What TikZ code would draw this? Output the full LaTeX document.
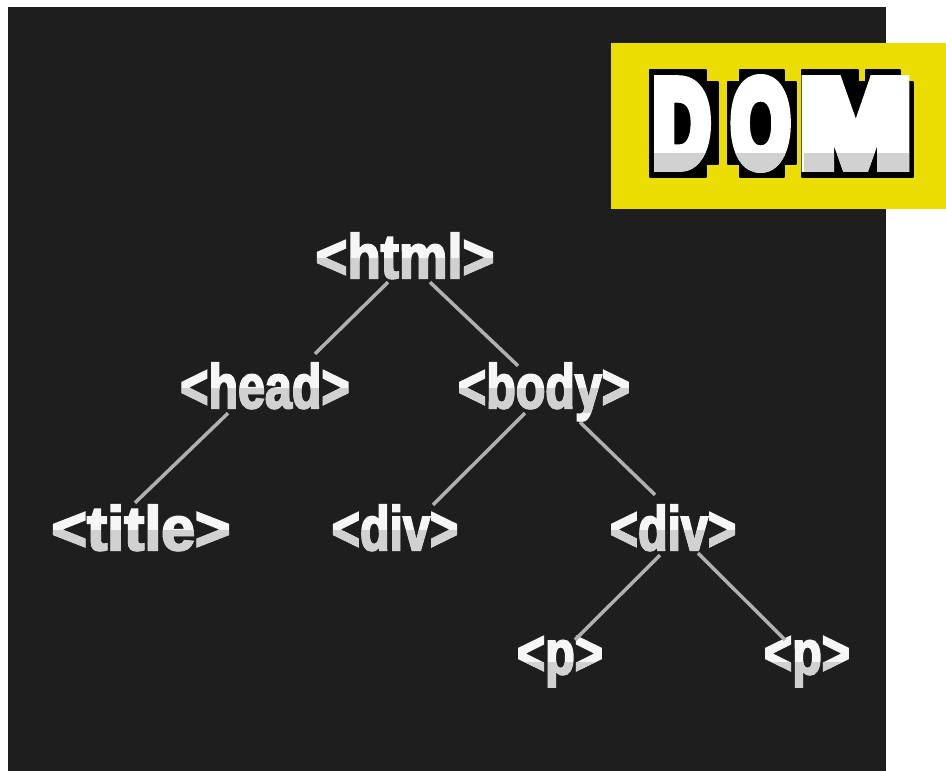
\documentclass[tikz,border=0pt]{standalone}
\usepackage{fontspec}
\setmainfont{Liberation Sans}
\usetikzlibrary{calc}
\definecolor{panel}{HTML}{1E1E1E}
\definecolor{badge}{HTML}{EBDD00}
\definecolor{edgegrey}{HTML}{B0B0B0}
\definecolor{labelwhite}{HTML}{F6F6F6}
\newcommand{\heavytext}[3]{\special{pdf:code q 0 j 2 M 2 Tr #1 w #2 RG}#3\special{pdf:code Q}}
\newcommand{\taglabel}[2]{\scalebox{#1}[1]{\heavytext{2.2}{0.965 0.965 0.965}{#2}}}
\tikzset{
  x=1pt,y=-1pt,
  tag/.style={inner sep=0pt,text height=45pt,text depth=5pt,text=labelwhite,font=\bfseries\fontsize{62}{62}\selectfont},
  link/.style={draw=edgegrey,line width=3.5pt},
  block/.style={fill=black,draw=black,line width=2pt,line join=round},
  lowershade/.style={fill=black!18!white,blend mode=darken}
}
\begin{document}
\begin{tikzpicture}
\useasboundingbox (0,0) rectangle (946,771);
\fill[white] (0,0) rectangle (946,771);
\fill[panel] (8,7) rectangle (886,771);
\fill[badge] (611,43) rectangle (946,209);
% letter blocks of the title
\draw[block] (650,70) -- (706,70) -- (706,82) -- (718,82) -- (718,164) -- (706,164) -- (706,177) -- (650,177) -- cycle;
\draw[block] (740,70) -- (784,70) -- (784,82) -- (796,82) -- (796,164) -- (784,164) -- (784,177) -- (740,177) -- (740,164) -- (728,164) -- (728,82) -- (740,82) -- cycle;
\draw[block] (802,70) -- (858,70) -- (858,82) -- (866,82) -- (866,70) -- (900,70) -- (900,82) -- (913,82) -- (913,177) -- (802,177) -- cycle;
\node[inner sep=0pt,text=white,font=\bfseries\fontsize{120}{120}\selectfont] (dom) at (782,123.5) {\heavytext{14}{1 1 1}{\scalebox{.65}[1]{D}\kern22pt\scalebox{.62}[1]{O}\kern11pt\scalebox{1.1}[1]{M}}};
\fill[lowershade] (652,153) rectangle (716,164) (652,164) rectangle (704,175) (730,153) rectangle (794,164) (742,164) rectangle (782,175) (804,153) rectangle (911,175);
% tree labels
\node[tag] (html) at (405,258) {\taglabel{.88}{<html>}};
\node[tag] (head) at (265,388) {\taglabel{.78}{<head>}};
\node[tag] (body) at (544,388) {\taglabel{.78}{<body>}};
\node[tag] (title) at (141,530) {\taglabel{.98}{<title>}};
\node[tag] (divA) at (395,530) {\taglabel{.78}{<div>}};
\node[tag] (divB) at (673,530) {\taglabel{.78}{<div>}};
\node[tag] (pA) at (560,654) {\taglabel{.78}{<p>}};
\node[tag] (pB) at (807,654) {\taglabel{.78}{<p>}};
\fill[lowershade] (html.west) rectangle (html.south east) (head.west) rectangle (head.south east) (body.west) rectangle (body.south east) (title.west) rectangle (title.south east) (divA.west) rectangle (divA.south east) (divB.west) rectangle (divB.south east) ($(pA.west)+(0,8)$) rectangle ($(pA.south east)+(0,16)$) ($(pB.west)+(0,8)$) rectangle ($(pB.south east)+(0,16)$);
% connectors
\draw[link] ([xshift=-17pt,yshift=1pt]html.south) -- ([xshift=50pt,yshift=9pt]head.north);
\draw[link] ([xshift=25pt,yshift=1pt]html.south) -- ([xshift=-26pt,yshift=-3pt]body.north);
\draw[link] ([xshift=-37pt]head.south) -- ([xshift=-6pt,yshift=2pt]title.north);
\draw[link] ([xshift=-19pt]body.south) -- ([xshift=38pt]divA.north);
\draw[link] ([xshift=36pt,yshift=-9pt]body.south) -- ([xshift=-18pt,yshift=10pt]divB.north);
\draw[link] ([xshift=-13pt]divB.south) -- ([xshift=15pt,yshift=-11pt]pA.north);
\draw[link] ([xshift=25pt,yshift=2pt]divB.south) -- ([xshift=-22pt,yshift=-11pt]pB.north);
\end{tikzpicture}
\end{document}
